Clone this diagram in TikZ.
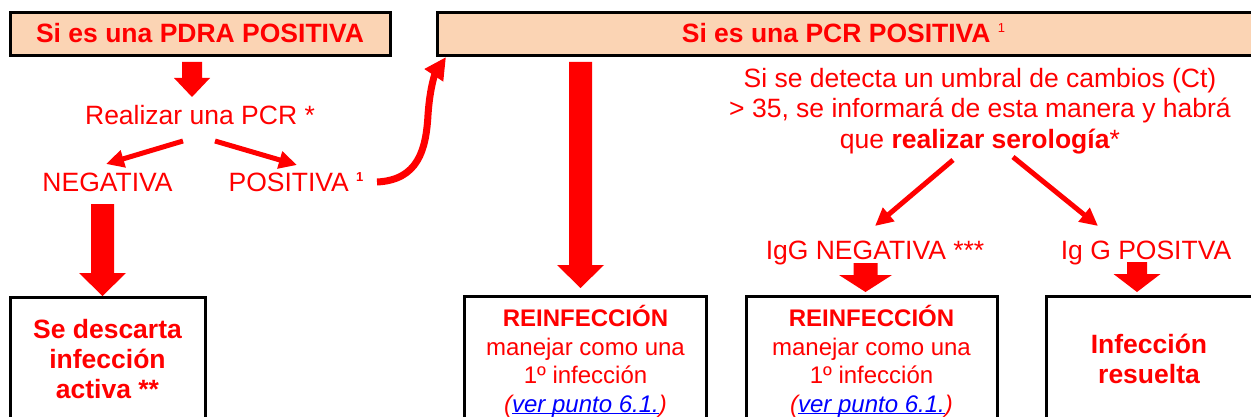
\documentclass[tikz,border=0pt]{standalone}
\usepackage{fontspec}
\setmainfont{Liberation Sans}
\usetikzlibrary{arrows.meta}
\definecolor{peach}{HTML}{FBD4B4}
\definecolor{rd}{HTML}{FF0000}
\definecolor{lnk}{HTML}{0000FF}
\newcommand\ulink[1]{\setbox0=\hbox{#1}\rlap{\rule[-2pt]{\wd0}{1.4pt}}\box0}
\newcommand\supone{\raisebox{10pt}{\fontsize{13}{13}\selectfont 1}}
\newcommand\blockarrow[6]{%
  \fill[rd] ({#1-#4/2},#2) -- ({#1+#4/2},#2) -- ({#1+#4/2},{#3-#6}) -- ({#1+#5/2},{#3-#6})
    -- (#1,#3) -- ({#1-#5/2},{#3-#6}) -- ({#1-#4/2},{#3-#6}) -- cycle;}
\begin{document}
\begin{tikzpicture}[x=1pt,y=-1pt,
  hdr/.style={draw=black,line width=3pt,fill=peach,outer sep=0pt,inner sep=0pt},
  res/.style={draw=black,line width=3pt,outer sep=0pt,inner sep=0pt},
  big/.style={text=rd,font=\fontsize{26.5}{30.5}\selectfont,align=center,anchor=base,inner sep=0pt},
  small/.style={text=rd,font=\fontsize{24}{28.4}\selectfont,align=center,anchor=base,inner sep=0pt},
  arr/.style={draw=rd,line width=5pt,-{Triangle[width=17pt,length=18pt]}}]
\useasboundingbox (0,0) rectangle (1251,417);
\clip (0,0) rectangle (1251,417);
% boxes
\node[hdr,minimum width=380pt,minimum height=43.5pt] (pdrabox) at (200.5,34.25) {};
\node[hdr,minimum width=832.5pt,minimum height=43.5pt] (pcrbox) at (853.75,34.25) {};
\node[res,minimum width=194.5pt,minimum height=142.5pt] (descbox) at (107.75,368.75) {};
\node[res,minimum width=242pt,minimum height=143.5pt] (reinfAbox) at (585.5,368.25) {};
\node[res,minimum width=251pt,minimum height=143.5pt] (reinfBbox) at (872,368.25) {};
\node[res,minimum width=223.5pt,minimum height=143.5pt] (resbox) at (1158.25,368.25) {};
% texts (base anchor = baseline of last line)
\node[big,font=\fontsize{26.5}{30.5}\selectfont\bfseries] (pdra) at (200,43) {Si es una PDRA POSITIVA};
\node[big,font=\fontsize{26.5}{30.5}\selectfont\bfseries] (pcr) at (843.5,43) {Si es una PCR POSITIVA {\mdseries\supone}};
\node[big] (realizar) at (200,125) {Realizar una PCR *};
\node[big] (neg) at (107.5,192) {NEGATIVA};
\node[big] (pos) at (296,192) {POSITIVA {\bfseries\supone}};
\node[big] (ct) at (980,148.5) {Si se detecta un umbral de cambios (Ct)\\ > 35, se informará de esta manera y habrá\\ que \textbf{realizar serología}*};
\node[big] (igneg) at (875,259) {IgG NEGATIVA ***};
\node[big] (igpos) at (1146,259) {Ig G POSITVA};
\node[big,font=\fontsize{26.5}{30}\selectfont\bfseries] (desc) at (107.5,398) {Se descarta\\ infección\\ activa **};
\node[small] (reinfA) at (585.5,412) {\textbf{REINFECCIÓN}\\ manejar como una\\ 1º infección\\ \textit{(\textcolor{lnk}{\ulink{ver punto 6.1.}})}};
\node[small] (reinfB) at (871.5,412) {\textbf{REINFECCIÓN}\\ manejar como una\\ 1º infección\\ \textit{(\textcolor{lnk}{\ulink{ver punto 6.1.}})}};
\node[big,font=\fontsize{26.5}{30}\selectfont\bfseries] (res) at (1149,383) {Infección\\ resuelta};
% block arrows
\blockarrow{192}{62}{97}{20}{36}{19}
\blockarrow{102.5}{204}{296}{23}{47}{23}
\blockarrow{580.5}{62}{288}{23}{47}{23}
\blockarrow{865.5}{263}{292}{24}{53}{17}
\blockarrow{1137}{262}{292}{20}{47}{18}
% thin arrows
\coordinate (r1) at (183,141); \coordinate (r1e) at (106,164);
\coordinate (r2) at (215,141); \coordinate (r2e) at (297,165);
\coordinate (s1) at (953,160); \coordinate (s1e) at (875,226);
\coordinate (s2) at (1013,157); \coordinate (s2e) at (1098,226);
\draw[arr] (r1) -- (r1e);
\draw[arr] (r2) -- (r2e);
\draw[arr] (s1) -- (s1e);
\draw[arr] (s2) -- (s2e);
% curved arrow
\coordinate (c0) at (377,182);
\coordinate (c1) at (446,57);
\draw[rd,line width=7pt,-{Triangle[width=21pt,length=22pt]}] (c0) .. controls (418,180) and (426,150) .. (428,115) .. controls (430,85) and (436,72) .. (c1);
\end{tikzpicture}
\end{document}
